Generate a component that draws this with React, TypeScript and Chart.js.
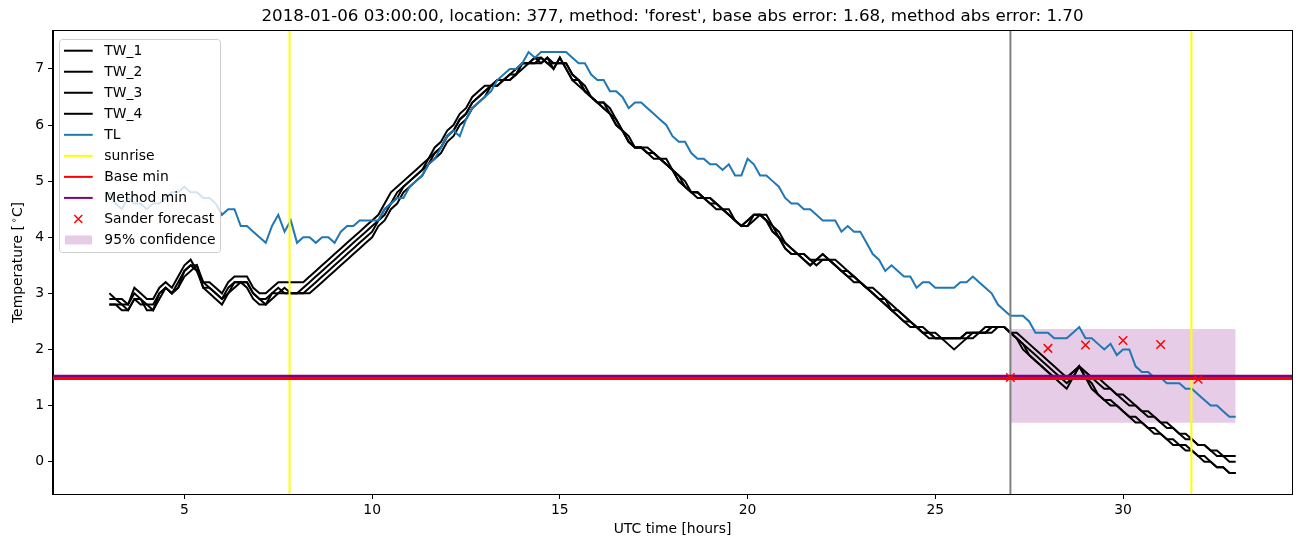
import React, { useEffect, useRef } from "react";
import { Chart, registerables } from "chart.js";

Chart.register(...registerables);

// ---- data (10-minute samples starting at 03:00 UTC, hours) ----
const START_HOUR = 3;
const STEP_HOURS = 1 / 6;

const TL = [
  4.8, 4.6, 4.5, 4.7, 4.6, 4.6,
  4.5, 4.6, 4.6, 4.7, 4.8, 4.8,
  4.9, 4.8, 4.8, 4.7, 4.7, 4.6,
  4.4, 4.5, 4.5, 4.2, 4.2, 4.1,
  4.0, 3.9, 4.2, 4.4, 4.1, 4.3,
  3.9, 4.0, 4.0, 3.9, 4.0, 4.0,
  3.9, 4.1, 4.2, 4.2, 4.3, 4.3,
  4.3, 4.3, 4.5, 4.6, 4.7, 4.7,
  4.9, 5.0, 5.1, 5.3, 5.4, 5.6,
  5.8, 5.9, 5.8, 6.1, 6.3, 6.4,
  6.5, 6.6, 6.8, 6.9, 7.0, 7.0,
  7.1, 7.3, 7.2, 7.3, 7.3, 7.3,
  7.3, 7.3, 7.2, 7.1, 7.1, 6.9,
  6.8, 6.8, 6.6, 6.6, 6.5, 6.3,
  6.4, 6.4, 6.3, 6.2, 6.1, 6.0,
  5.8, 5.7, 5.7, 5.5, 5.4, 5.4,
  5.3, 5.3, 5.2, 5.3, 5.1, 5.1,
  5.4, 5.3, 5.1, 5.1, 5.0, 4.9,
  4.7, 4.6, 4.6, 4.5, 4.5, 4.4,
  4.3, 4.3, 4.3, 4.1, 4.2, 4.1,
  4.1, 3.9, 3.7, 3.6, 3.4, 3.5,
  3.4, 3.3, 3.3, 3.1, 3.2, 3.2,
  3.1, 3.1, 3.1, 3.1, 3.2, 3.2,
  3.3, 3.2, 3.1, 3.0, 2.8, 2.7,
  2.6, 2.6, 2.6, 2.5, 2.3, 2.3,
  2.3, 2.2, 2.2, 2.2, 2.3, 2.4,
  2.2, 2.2, 2.1, 2.0, 2.1, 1.9,
  2.0, 2.0, 1.7, 1.6, 1.6, 1.5,
  1.5, 1.4, 1.4, 1.4, 1.3, 1.3,
  1.2, 1.1, 1.0, 1.0, 0.9, 0.8,
  0.8,
];

const TW_1 = [
  3.0, 2.9, 2.9, 2.8, 3.1, 3.0,
  2.9, 2.9, 3.1, 3.2, 3.1, 3.3,
  3.5, 3.6, 3.4, 3.2, 3.2, 3.1,
  3.0, 3.2, 3.3, 3.3, 3.3, 3.1,
  3.0, 3.0, 3.1, 3.2, 3.2, 3.2,
  3.2, 3.2, 3.3, 3.4, 3.5, 3.6,
  3.7, 3.8, 3.9, 4.0, 4.1, 4.2,
  4.3, 4.4, 4.6, 4.8, 4.9, 5.0,
  5.1, 5.2, 5.3, 5.4, 5.6, 5.7,
  5.9, 6.0, 6.2, 6.3, 6.5, 6.6,
  6.7, 6.7, 6.8, 6.8, 6.9, 7.0,
  7.1, 7.1, 7.2, 7.2, 7.1, 7.0,
  7.2, 7.0, 6.8, 6.7, 6.6, 6.5,
  6.4, 6.3, 6.2, 6.0, 5.9, 5.7,
  5.6, 5.6, 5.5, 5.5, 5.4, 5.3,
  5.2, 5.0, 4.9, 4.8, 4.8, 4.7,
  4.7, 4.6, 4.5, 4.4, 4.3, 4.2,
  4.3, 4.4, 4.4, 4.3, 4.1, 4.0,
  3.8, 3.7, 3.7, 3.6, 3.5, 3.6,
  3.7, 3.6, 3.5, 3.4, 3.3, 3.3,
  3.2, 3.1, 3.0, 2.9, 2.9, 2.7,
  2.6, 2.5, 2.5, 2.4, 2.3, 2.3,
  2.2, 2.2, 2.2, 2.2, 2.2, 2.3,
  2.3, 2.3, 2.4, 2.4, 2.4, 2.4,
  2.3, 2.2, 2.1, 2.0, 1.9, 1.8,
  1.7, 1.6, 1.5, 1.5, 1.6, 1.7,
  1.6, 1.5, 1.4, 1.3, 1.3, 1.2,
  1.1, 1.0, 1.0, 0.9, 0.8, 0.8,
  0.7, 0.6, 0.6, 0.5, 0.4, 0.4,
  0.3, 0.3, 0.2, 0.2, 0.1, 0.1,
  0.1,
];

const TW_2 = [
  2.9, 2.9, 2.8, 2.8, 3.0, 2.9,
  2.8, 2.8, 3.0, 3.1, 3.0, 3.2,
  3.4, 3.5, 3.5, 3.2, 3.1, 3.0,
  2.9, 3.1, 3.2, 3.2, 3.2, 3.0,
  2.9, 2.9, 3.0, 3.1, 3.0, 3.0,
  3.0, 3.1, 3.2, 3.3, 3.4, 3.5,
  3.6, 3.7, 3.8, 3.9, 4.0, 4.1,
  4.2, 4.3, 4.5, 4.6, 4.8, 4.9,
  5.0, 5.1, 5.2, 5.3, 5.5, 5.6,
  5.8, 5.9, 6.1, 6.2, 6.4, 6.5,
  6.6, 6.7, 6.7, 6.8, 6.8, 6.9,
  7.1, 7.1, 7.1, 7.2, 7.1, 7.1,
  7.1, 7.1, 6.9, 6.8, 6.6, 6.5,
  6.4, 6.4, 6.2, 6.1, 5.9, 5.7,
  5.6, 5.6, 5.6, 5.5, 5.4, 5.3,
  5.2, 5.1, 4.9, 4.8, 4.8, 4.7,
  4.6, 4.6, 4.5, 4.4, 4.3, 4.2,
  4.2, 4.4, 4.4, 4.3, 4.2, 4.0,
  3.9, 3.8, 3.7, 3.7, 3.6, 3.6,
  3.7, 3.6, 3.6, 3.5, 3.4, 3.3,
  3.2, 3.1, 3.1, 3.0, 2.9, 2.8,
  2.7, 2.6, 2.5, 2.4, 2.4, 2.3,
  2.3, 2.2, 2.2, 2.2, 2.2, 2.2,
  2.3, 2.3, 2.3, 2.4, 2.4, 2.4,
  2.3, 2.3, 2.2, 2.1, 2.0, 1.9,
  1.8, 1.7, 1.6, 1.5, 1.6, 1.7,
  1.6, 1.5, 1.5, 1.4, 1.3, 1.2,
  1.2, 1.1, 1.0, 0.9, 0.9, 0.8,
  0.7, 0.7, 0.6, 0.5, 0.5, 0.4,
  0.3, 0.3, 0.2, 0.1, 0.1, 0.0,
  0.0,
];

const TW_3 = [
  2.8, 2.8, 2.7, 2.7, 2.9, 2.9,
  2.7, 2.7, 2.9, 3.1, 3.0, 3.1,
  3.4, 3.5, 3.4, 3.1, 3.0, 2.9,
  2.8, 3.0, 3.1, 3.2, 3.1, 2.9,
  2.8, 2.8, 3.0, 3.0, 3.0, 3.0,
  3.0, 3.0, 3.0, 3.1, 3.2, 3.3,
  3.4, 3.5, 3.6, 3.7, 3.8, 3.9,
  4.0, 4.2, 4.3, 4.5, 4.6, 4.8,
  4.9, 5.0, 5.1, 5.3, 5.4, 5.5,
  5.7, 5.8, 6.0, 6.1, 6.3, 6.4,
  6.5, 6.7, 6.7, 6.8, 6.8, 6.9,
  7.0, 7.1, 7.1, 7.1, 7.2, 7.1,
  7.1, 7.1, 6.9, 6.8, 6.7, 6.5,
  6.4, 6.4, 6.3, 6.1, 5.9, 5.8,
  5.6, 5.6, 5.5, 5.5, 5.4, 5.4,
  5.2, 5.1, 5.0, 4.8, 4.8, 4.7,
  4.7, 4.6, 4.5, 4.5, 4.3, 4.2,
  4.2, 4.3, 4.4, 4.4, 4.2, 4.1,
  3.9, 3.8, 3.7, 3.7, 3.6, 3.5,
  3.6, 3.6, 3.5, 3.4, 3.4, 3.3,
  3.2, 3.1, 3.0, 2.9, 2.8, 2.7,
  2.7, 2.6, 2.5, 2.4, 2.3, 2.3,
  2.2, 2.2, 2.1, 2.0, 2.1, 2.2,
  2.2, 2.3, 2.3, 2.3, 2.4, 2.4,
  2.3, 2.2, 2.0, 1.9, 1.8, 1.7,
  1.6, 1.5, 1.4, 1.3, 1.5, 1.7,
  1.5, 1.3, 1.2, 1.1, 1.0, 1.0,
  0.9, 0.8, 0.7, 0.7, 0.6, 0.5,
  0.5, 0.4, 0.3, 0.3, 0.2, 0.2,
  0.1, 0.0, 0.0, -0.1, -0.1, -0.2,
  -0.2,
];

const TW_4 = [
  2.8, 2.8, 2.8, 2.7, 2.9, 2.8,
  2.8, 2.7, 3.0, 3.1, 3.0, 3.1,
  3.3, 3.4, 3.5, 3.1, 3.1, 3.0,
  2.9, 3.0, 3.2, 3.2, 3.2, 3.0,
  2.9, 2.8, 2.9, 3.0, 3.1, 3.0,
  3.0, 3.0, 3.1, 3.2, 3.3, 3.4,
  3.5, 3.6, 3.7, 3.8, 3.9, 4.0,
  4.1, 4.3, 4.4, 4.6, 4.7, 4.9,
  5.0, 5.1, 5.2, 5.4, 5.5, 5.6,
  5.8, 5.9, 6.1, 6.2, 6.4, 6.5,
  6.6, 6.7, 6.8, 6.8, 6.9, 6.9,
  7.1, 7.1, 7.2, 7.1, 7.2, 7.0,
  7.2, 7.0, 6.8, 6.8, 6.6, 6.5,
  6.4, 6.3, 6.2, 6.0, 5.9, 5.7,
  5.6, 5.6, 5.5, 5.4, 5.4, 5.3,
  5.2, 5.0, 4.9, 4.8, 4.7, 4.7,
  4.6, 4.5, 4.5, 4.4, 4.3, 4.2,
  4.3, 4.4, 4.4, 4.3, 4.1, 4.0,
  3.8, 3.7, 3.7, 3.6, 3.5, 3.6,
  3.6, 3.6, 3.5, 3.4, 3.3, 3.2,
  3.2, 3.1, 3.0, 2.9, 2.8, 2.7,
  2.6, 2.5, 2.4, 2.4, 2.3, 2.2,
  2.2, 2.2, 2.2, 2.2, 2.2, 2.3,
  2.3, 2.3, 2.3, 2.4, 2.4, 2.4,
  2.3, 2.2, 2.1, 1.9, 1.8, 1.7,
  1.6, 1.5, 1.5, 1.4, 1.5, 1.7,
  1.5, 1.4, 1.2, 1.1, 1.1, 1.0,
  0.9, 0.8, 0.8, 0.7, 0.6, 0.6,
  0.5, 0.4, 0.4, 0.3, 0.3, 0.2,
  0.1, 0.1, 0.0, -0.1, -0.1, -0.2,
  -0.2,
];

const SUNRISE_HOURS = [7.8, 31.82];
const FORECAST_HOUR = 27;
const BASE_MIN = 1.485;
const METHOD_MIN = 1.525;
const SANDER_HOURS = [27, 28, 29, 30, 31, 32];
const SANDER_VALUES = [1.5, 2.02, 2.08, 2.16, 2.09, 1.47];
const CONF_HOURS = [27, 33];
const CONF_LOW = 0.695;
const CONF_HIGH = 2.365;

const X_TICKS = [5, 10, 15, 20, 25, 30];
const Y_TICKS = [0, 1, 2, 3, 4, 5, 6, 7];
const X_MIN = 1.5;
const X_MAX = 34.5;
const Y_MIN = -0.575;
const Y_MAX = 7.675;

const TITLE =
  "2018-01-06 03:00:00, location: 377, method: 'forest', base abs error: 1.68, method abs error: 1.70";
const X_LABEL = "UTC time [hours]";

const FONT = '"DejaVu Sans", "Liberation Sans", sans-serif';
const BLUE = "#1f77b4";

const LEGEND_ITEMS = [
  { label: "TW_1", kind: "line", color: "#000000", width: 2 },
  { label: "TW_2", kind: "line", color: "#000000", width: 2 },
  { label: "TW_3", kind: "line", color: "#000000", width: 2 },
  { label: "TW_4", kind: "line", color: "#000000", width: 2 },
  { label: "TL", kind: "line", color: BLUE, width: 2 },
  { label: "sunrise", kind: "line", color: "#ffff00", width: 2 },
  { label: "Base min", kind: "line", color: "#ff0000", width: 2 },
  { label: "Method min", kind: "line", color: "#800080", width: 2 },
  { label: "Sander forecast", kind: "cross", color: "#ff0000", width: 1.5 },
  { label: "95% confidence", kind: "patch", color: "rgba(128,0,128,0.2)", width: 0 },
];

function series(values: number[]) {
  return values.map((v, i) => ({ x: START_HOUR + i * STEP_HOURS, y: v }));
}

const framePlugin = {
  id: "mplFrame",
  afterDatasetsDraw(chart: any) {
    const { ctx, chartArea } = chart;
    ctx.save();
    ctx.strokeStyle = "#000";
    ctx.lineWidth = 1;
    ctx.strokeRect(
      Math.round(chartArea.left) - 0.5,
      Math.round(chartArea.top) - 0.5,
      Math.round(chartArea.right - chartArea.left) + 1,
      Math.round(chartArea.bottom - chartArea.top) + 1
    );
    ctx.restore();
  },
};

const textPlugin = {
  id: "mplText",
  afterDraw(chart: any) {
    const { ctx, chartArea } = chart;
    const cx = (chartArea.left + chartArea.right) / 2;
    const cy = (chartArea.top + chartArea.bottom) / 2;
    ctx.save();
    ctx.fillStyle = "#000";
    ctx.textAlign = "center";
    ctx.textBaseline = "middle";
    ctx.font = `16.7px ${FONT}`;
    ctx.fillText(TITLE, cx, 17);
    ctx.font = `13.9px ${FONT}`;
    ctx.fillText(X_LABEL, cx, 529);

    // y label with superscript degree
    ctx.translate(18, cy);
    ctx.rotate(-Math.PI / 2);
    const p1 = "Temperature [";
    const p2 = "\u2218";
    const p3 = "C]";
    ctx.font = `13.9px ${FONT}`;
    const w1 = ctx.measureText(p1).width;
    const w3 = ctx.measureText(p3).width;
    ctx.font = `9.7px ${FONT}`;
    const w2 = ctx.measureText(p2).width + 2;
    const total = w1 + w2 + w3;
    let x = -total / 2;
    ctx.textAlign = "left";
    ctx.font = `13.9px ${FONT}`;
    ctx.fillText(p1, x, 0);
    x += w1;
    ctx.font = `9.7px ${FONT}`;
    ctx.fillText(p2, x + 2, -4);
    x += w2;
    ctx.font = `13.9px ${FONT}`;
    ctx.fillText(p3, x, 0);
    ctx.restore();
  },
};

const legendPlugin = {
  id: "mplLegend",
  afterDraw(chart: any) {
    const { ctx } = chart;
    ctx.save();
    const x0 = 59.5, y0 = 39.5, w = 161, h = 213, r = 3;
    ctx.beginPath();
    ctx.moveTo(x0 + r, y0);
    ctx.lineTo(x0 + w - r, y0);
    ctx.quadraticCurveTo(x0 + w, y0, x0 + w, y0 + r);
    ctx.lineTo(x0 + w, y0 + h - r);
    ctx.quadraticCurveTo(x0 + w, y0 + h, x0 + w - r, y0 + h);
    ctx.lineTo(x0 + r, y0 + h);
    ctx.quadraticCurveTo(x0, y0 + h, x0, y0 + h - r);
    ctx.lineTo(x0, y0 + r);
    ctx.quadraticCurveTo(x0, y0, x0 + r, y0);
    ctx.closePath();
    ctx.fillStyle = "rgba(255,255,255,0.8)";
    ctx.fill();
    ctx.strokeStyle = "#cccccc";
    ctx.lineWidth = 1;
    ctx.stroke();

    ctx.font = `13.9px ${FONT}`;
    ctx.textBaseline = "middle";
    ctx.textAlign = "left";
    LEGEND_ITEMS.forEach((it, i) => {
      const cy = 50.7 + i * 21.03;
      if (it.kind === "line") {
        ctx.strokeStyle = it.color;
        ctx.lineWidth = it.width;
        ctx.beginPath();
        ctx.moveTo(64, cy);
        ctx.lineTo(92.7, cy);
        ctx.stroke();
      } else if (it.kind === "cross") {
        const mx = 78.3, s = 4;
        ctx.strokeStyle = it.color;
        ctx.lineWidth = it.width;
        ctx.beginPath();
        ctx.moveTo(mx - s, cy - s);
        ctx.lineTo(mx + s, cy + s);
        ctx.moveTo(mx - s, cy + s);
        ctx.lineTo(mx + s, cy - s);
        ctx.stroke();
      } else {
        ctx.fillStyle = it.color;
        ctx.fillRect(65, cy - 4.5, 27, 9);
      }
      ctx.fillStyle = "#000";
      ctx.fillText(it.label, 104.3, cy + 0.5);
    });
    ctx.restore();
  },
};

export default function App() {
  const canvasRef = useRef<HTMLCanvasElement | null>(null);

  useEffect(() => {
    if (!canvasRef.current) return;
    const lineDs = (label: string, data: any[], color: string, width: number, order: number) => ({
      type: "line" as const,
      label,
      data,
      borderColor: color,
      backgroundColor: color,
      borderWidth: width,
      pointRadius: 0,
      tension: 0,
      fill: false,
      order,
    });

    const datasets: any[] = [
      {
        type: "line",
        label: "95% confidence",
        data: CONF_HOURS.map((hr) => ({ x: hr, y: CONF_HIGH })),
        borderWidth: 0,
        borderColor: "rgba(0,0,0,0)",
        backgroundColor: "rgba(128,0,128,0.2)",
        pointRadius: 0,
        fill: { value: CONF_LOW },
        order: 100,
      },
      lineDs("TW_1", series(TW_1), "#000000", 2, 94),
      lineDs("TW_2", series(TW_2), "#000000", 2, 93),
      lineDs("TW_3", series(TW_3), "#000000", 2, 92),
      lineDs("TW_4", series(TW_4), "#000000", 2, 91),
      lineDs("TL", series(TL), BLUE, 2, 90),
      ...SUNRISE_HOURS.map((hr) =>
        lineDs("sunrise", [{ x: hr, y: Y_MIN }, { x: hr, y: Y_MAX }], "#ffff00", 2, 80)
      ),
      lineDs("forecast", [{ x: FORECAST_HOUR, y: Y_MIN }, { x: FORECAST_HOUR, y: Y_MAX }], "#808080", 2, 79),
      lineDs("Method min", [{ x: X_MIN, y: METHOD_MIN }, { x: X_MAX, y: METHOD_MIN }], "#800080", 3, 70),
      lineDs("Base min", [{ x: X_MIN, y: BASE_MIN }, { x: X_MAX, y: BASE_MIN }], "#ff0000", 3, 69),
      {
        type: "line",
        label: "Sander forecast",
        data: SANDER_HOURS.map((hr, i) => ({ x: hr, y: SANDER_VALUES[i] })),
        showLine: false,
        pointStyle: "crossRot",
        pointRadius: 6,
        pointBorderWidth: 1.5,
        borderColor: "#ff0000",
        backgroundColor: "#ff0000",
        order: 10,
      },
    ];

    const tickFont = { family: FONT, size: 13.9 };
    const chart = new Chart(canvasRef.current, {
      type: "line",
      data: { datasets },
      options: {
        responsive: false,
        animation: false,
        devicePixelRatio: 1,
        events: [],
        layout: { padding: { top: 31, right: 10, left: 0, bottom: 0 } },
        plugins: {
          legend: { display: false },
          tooltip: { enabled: false },
          title: { display: false },
        },
        scales: {
          x: {
            type: "linear",
            min: X_MIN,
            max: X_MAX,
            afterFit: (s: any) => {
              s.height = 53;
            },
            afterBuildTicks: (s: any) => {
              s.ticks = X_TICKS.map((v) => ({ value: v }));
            },
            ticks: {
              font: tickFont,
              color: "#000",
              padding: 3,
              maxRotation: 0,
              autoSkip: false,
              callback: (v: any) => String(v),
            },
            grid: {
              display: true,
              drawOnChartArea: false,
              drawTicks: true,
              tickLength: 5,
              tickColor: "#000",
              tickWidth: 1,
            },
            border: { display: true, color: "#000", width: 1 },
          },
          y: {
            type: "linear",
            min: Y_MIN,
            max: Y_MAX,
            afterFit: (s: any) => {
              s.width = 53;
            },
            afterBuildTicks: (s: any) => {
              s.ticks = Y_TICKS.map((v) => ({ value: v }));
            },
            ticks: {
              font: tickFont,
              color: "#000",
              padding: 4,
              autoSkip: false,
              callback: (v: any) => String(v),
            },
            grid: {
              display: true,
              drawOnChartArea: false,
              drawTicks: true,
              tickLength: 5,
              tickColor: "#000",
              tickWidth: 1,
            },
            border: { display: true, color: "#000", width: 1 },
          },
        },
      },
      plugins: [framePlugin, textPlugin, legendPlugin],
    } as any);

    return () => {
      chart.destroy();
    };
  }, []);

  return (
    <div
      style={{
        position: "fixed",
        left: 0,
        top: 0,
        width: 1302,
        height: 547,
        background: "#ffffff",
      }}
    >
      <canvas ref={canvasRef} width={1302} height={547} style={{ width: 1302, height: 547 }} />
    </div>
  );
}
